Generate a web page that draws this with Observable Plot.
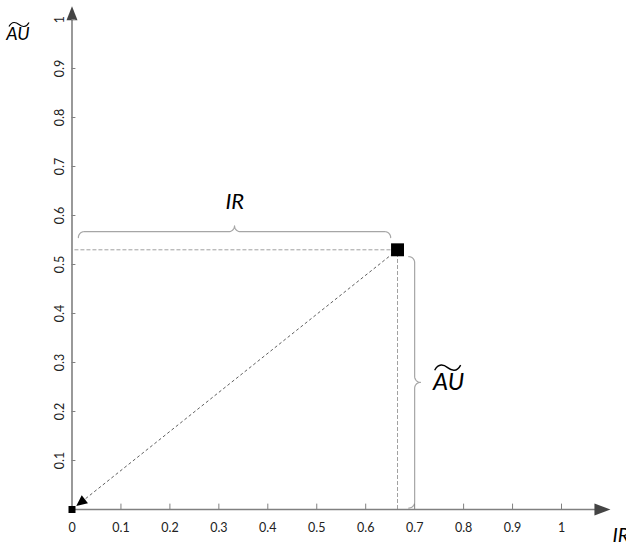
<!DOCTYPE html>
<html><head><meta charset="utf-8">
<script src="https://cdn.jsdelivr.net/npm/d3@7"></script>
<script src="https://cdn.jsdelivr.net/npm/@observablehq/plot@0.6"></script>
<style>body{margin:0;background:#fff}#chart svg{overflow:visible;display:block}</style>
</head><body><div id="chart"></div>
<script>
// ---- data ----
const pointNames = ["origin", "point"];
const irValues = [0, 0.665];
const auValues = [0, 0.53];
const xTickValues = [0, 0.1, 0.2, 0.3, 0.4, 0.5, 0.6, 0.7, 0.8, 0.9, 1];
const xTickLabels = ["0", "0.1", "0.2", "0.3", "0.4", "0.5", "0.6", "0.7", "0.8", "0.9", "1"];
const yTickValues = [0.1, 0.2, 0.3, 0.4, 0.5, 0.6, 0.7, 0.8, 0.9, 1];
const yTickLabels = ["0.1", "0.2", "0.3", "0.4", "0.5", "0.6", "0.7", "0.8", "0.9", "1"];
const axisNames = ["IR", "AU"];

const IR = irValues[1], AU = auValues[1];
const xAxisEnd = 1.1, yAxisEnd = 1.027;

// ---- helpers ----
function brace(t0, t1, r) {
  const pts = [];
  const m = (t0 + t1) / 2;
  const arc = (ct, cn, a0, a1) => {
    for (let i = 0; i <= 10; i++) {
      const a = a0 + (a1 - a0) * i / 10;
      pts.push([ct + r * Math.cos(a), cn + r * Math.sin(a)]);
    }
  };
  arc(t0 + r, -r, Math.PI, Math.PI / 2);
  arc(m - r, r, -Math.PI / 2, 0);
  arc(m + r, r, Math.PI, 1.5 * Math.PI);
  arc(t1 - r, -r, Math.PI / 2, 0);
  return pts;
}
const hBrace = brace(0.013, IR - 0.014, 0.012).map(([t, n]) => ({x: t, y: AU + 0.037 + n}));
const vBrace = brace(0.003, AU - 0.014, 0.012).map(([t, n]) => ({x: IR + 0.035 + n, y: t}));

const arrowRight = {draw(c) { c.moveTo(0, 0); c.lineTo(-16, -6); c.lineTo(-16, 6); c.closePath(); }};
const arrowUp = {draw(c) { c.moveTo(0, 0); c.lineTo(-5.5, 14); c.lineTo(5.5, 14); c.closePath(); }};
const arrowSmall = {draw(c) { c.moveTo(0, 0); c.lineTo(-5, 11); c.lineTo(5, 11); c.closePath(); }};
const tilde = {draw(c, size) {
  const w = Math.sqrt(size), h = w * 0.2;
  c.moveTo(-w / 2, h / 2);
  c.bezierCurveTo(-w * 0.35, -h * 0.9, -w * 0.15, -h * 0.6, 0, 0);
  c.bezierCurveTo(w * 0.15, h * 0.6, w * 0.35, h * 0.9, w / 2, -h / 2);
}};

const tipFrac = 0.013;
const diagAngle = Math.atan2(AU, -IR) * 180 / Math.PI + 90;

const chart = Plot.plot({
  width: 626, height: 544,
  marginLeft: 71.5, marginRight: 65, marginTop: 19, marginBottom: 35,
  x: {domain: [0, 1], axis: null},
  y: {domain: [0, 1], axis: null},
  style: {fontFamily: "Lato, 'Open Sans', sans-serif", background: "#fff", color: "#000"},
  marks: [
    // dashed guide lines
    Plot.ruleY([AU], {x1: 0.006, x2: IR, stroke: "#a0a0a0", strokeDasharray: "4,2", strokeWidth: 1}),
    Plot.ruleX([IR], {y1: 0, y2: AU, stroke: "#a0a0a0", strokeDasharray: "4,2", strokeWidth: 1}),
    Plot.link([0], {x1: IR, y1: AU, x2: IR * tipFrac * 1.8, y2: AU * tipFrac * 1.8, stroke: "#606060", strokeDasharray: "3,2.5", strokeWidth: 1}),
    Plot.dot([0], {x: IR * tipFrac, y: AU * tipFrac, symbol: arrowSmall, rotate: diagAngle, fill: "#000", stroke: "none", r: 5}),
    // braces
    Plot.line(hBrace, {x: "x", y: "y", stroke: "#a6a6a6", strokeWidth: 1.2}),
    Plot.line(vBrace, {x: "x", y: "y", stroke: "#a6a6a6", strokeWidth: 1.2}),
    // axes
    Plot.ruleY([0], {x1: 0, x2: 1.07, stroke: "#808080", strokeWidth: 1.6}),
    Plot.ruleX([0], {y1: 0, y2: 0.998, stroke: "#808080", strokeWidth: 1.6}),
    Plot.dot([0], {x: xAxisEnd, y: 0, symbol: arrowRight, fill: "#444", stroke: "none", r: 5}),
    Plot.dot([0], {x: 0, y: yAxisEnd, symbol: arrowUp, fill: "#444", stroke: "none", r: 5}),
    Plot.ruleX(xTickValues.slice(1), {x: d => d, y1: 0, y2: 0.011, stroke: "#808080", strokeWidth: 1}),
    Plot.ruleY(yTickValues, {y: d => d, x1: 0, x2: 0.008, stroke: "#808080", strokeWidth: 1}),
    Plot.text(xTickValues, {x: d => d, y: 0, text: (d, i) => xTickLabels[i], dy: 18, fontSize: 12.5, fill: "#222"}),
    Plot.text(yTickValues, {x: 0, y: d => d, text: (d, i) => yTickLabels[i], dx: -12, rotate: -90, fontSize: 12.5, fill: "#222"}),
    // points
    Plot.dot([pointNames[0]], {x: irValues[0], y: auValues[0], symbol: "square", fill: "#000", stroke: "none", r: 3.95}),
    Plot.dot([pointNames[1]], {x: irValues[1], y: auValues[1], symbol: "square", fill: "#000", stroke: "none", r: 7.3}),
    // labels
    Plot.text([axisNames[0]], {x: IR / 2, y: AU + 0.037, dy: -30, fontSize: 22, fontStyle: "italic", fill: "#000"}),
    Plot.text([axisNames[1]], {x: IR + 0.035, y: AU / 2, dx: 34, dy: 3, fontSize: 24, fontStyle: "italic", fill: "#000"}),
    Plot.dot([0], {x: IR + 0.035, y: AU / 2, dx: 33, dy: -12, symbol: tilde, r: 26 / 1.7725, fill: "none", stroke: "#000", strokeWidth: 1.4}),
    Plot.text([axisNames[1]], {x: 0, y: 1, dx: -54, dy: 15, fontSize: 18, fontStyle: "italic", fill: "#000"}),
    Plot.dot([0], {x: 0, y: 1, dx: -53, dy: 5, symbol: tilde, r: 20 / 1.7725, fill: "none", stroke: "#000", strokeWidth: 1.2}),
    Plot.text([axisNames[0]], {x: xAxisEnd, y: 0, dx: 2, dy: 26, textAnchor: "start", fontSize: 20, fontStyle: "italic", fill: "#000"})
  ]
});
document.getElementById("chart").append(chart);
</script>
</body></html>
